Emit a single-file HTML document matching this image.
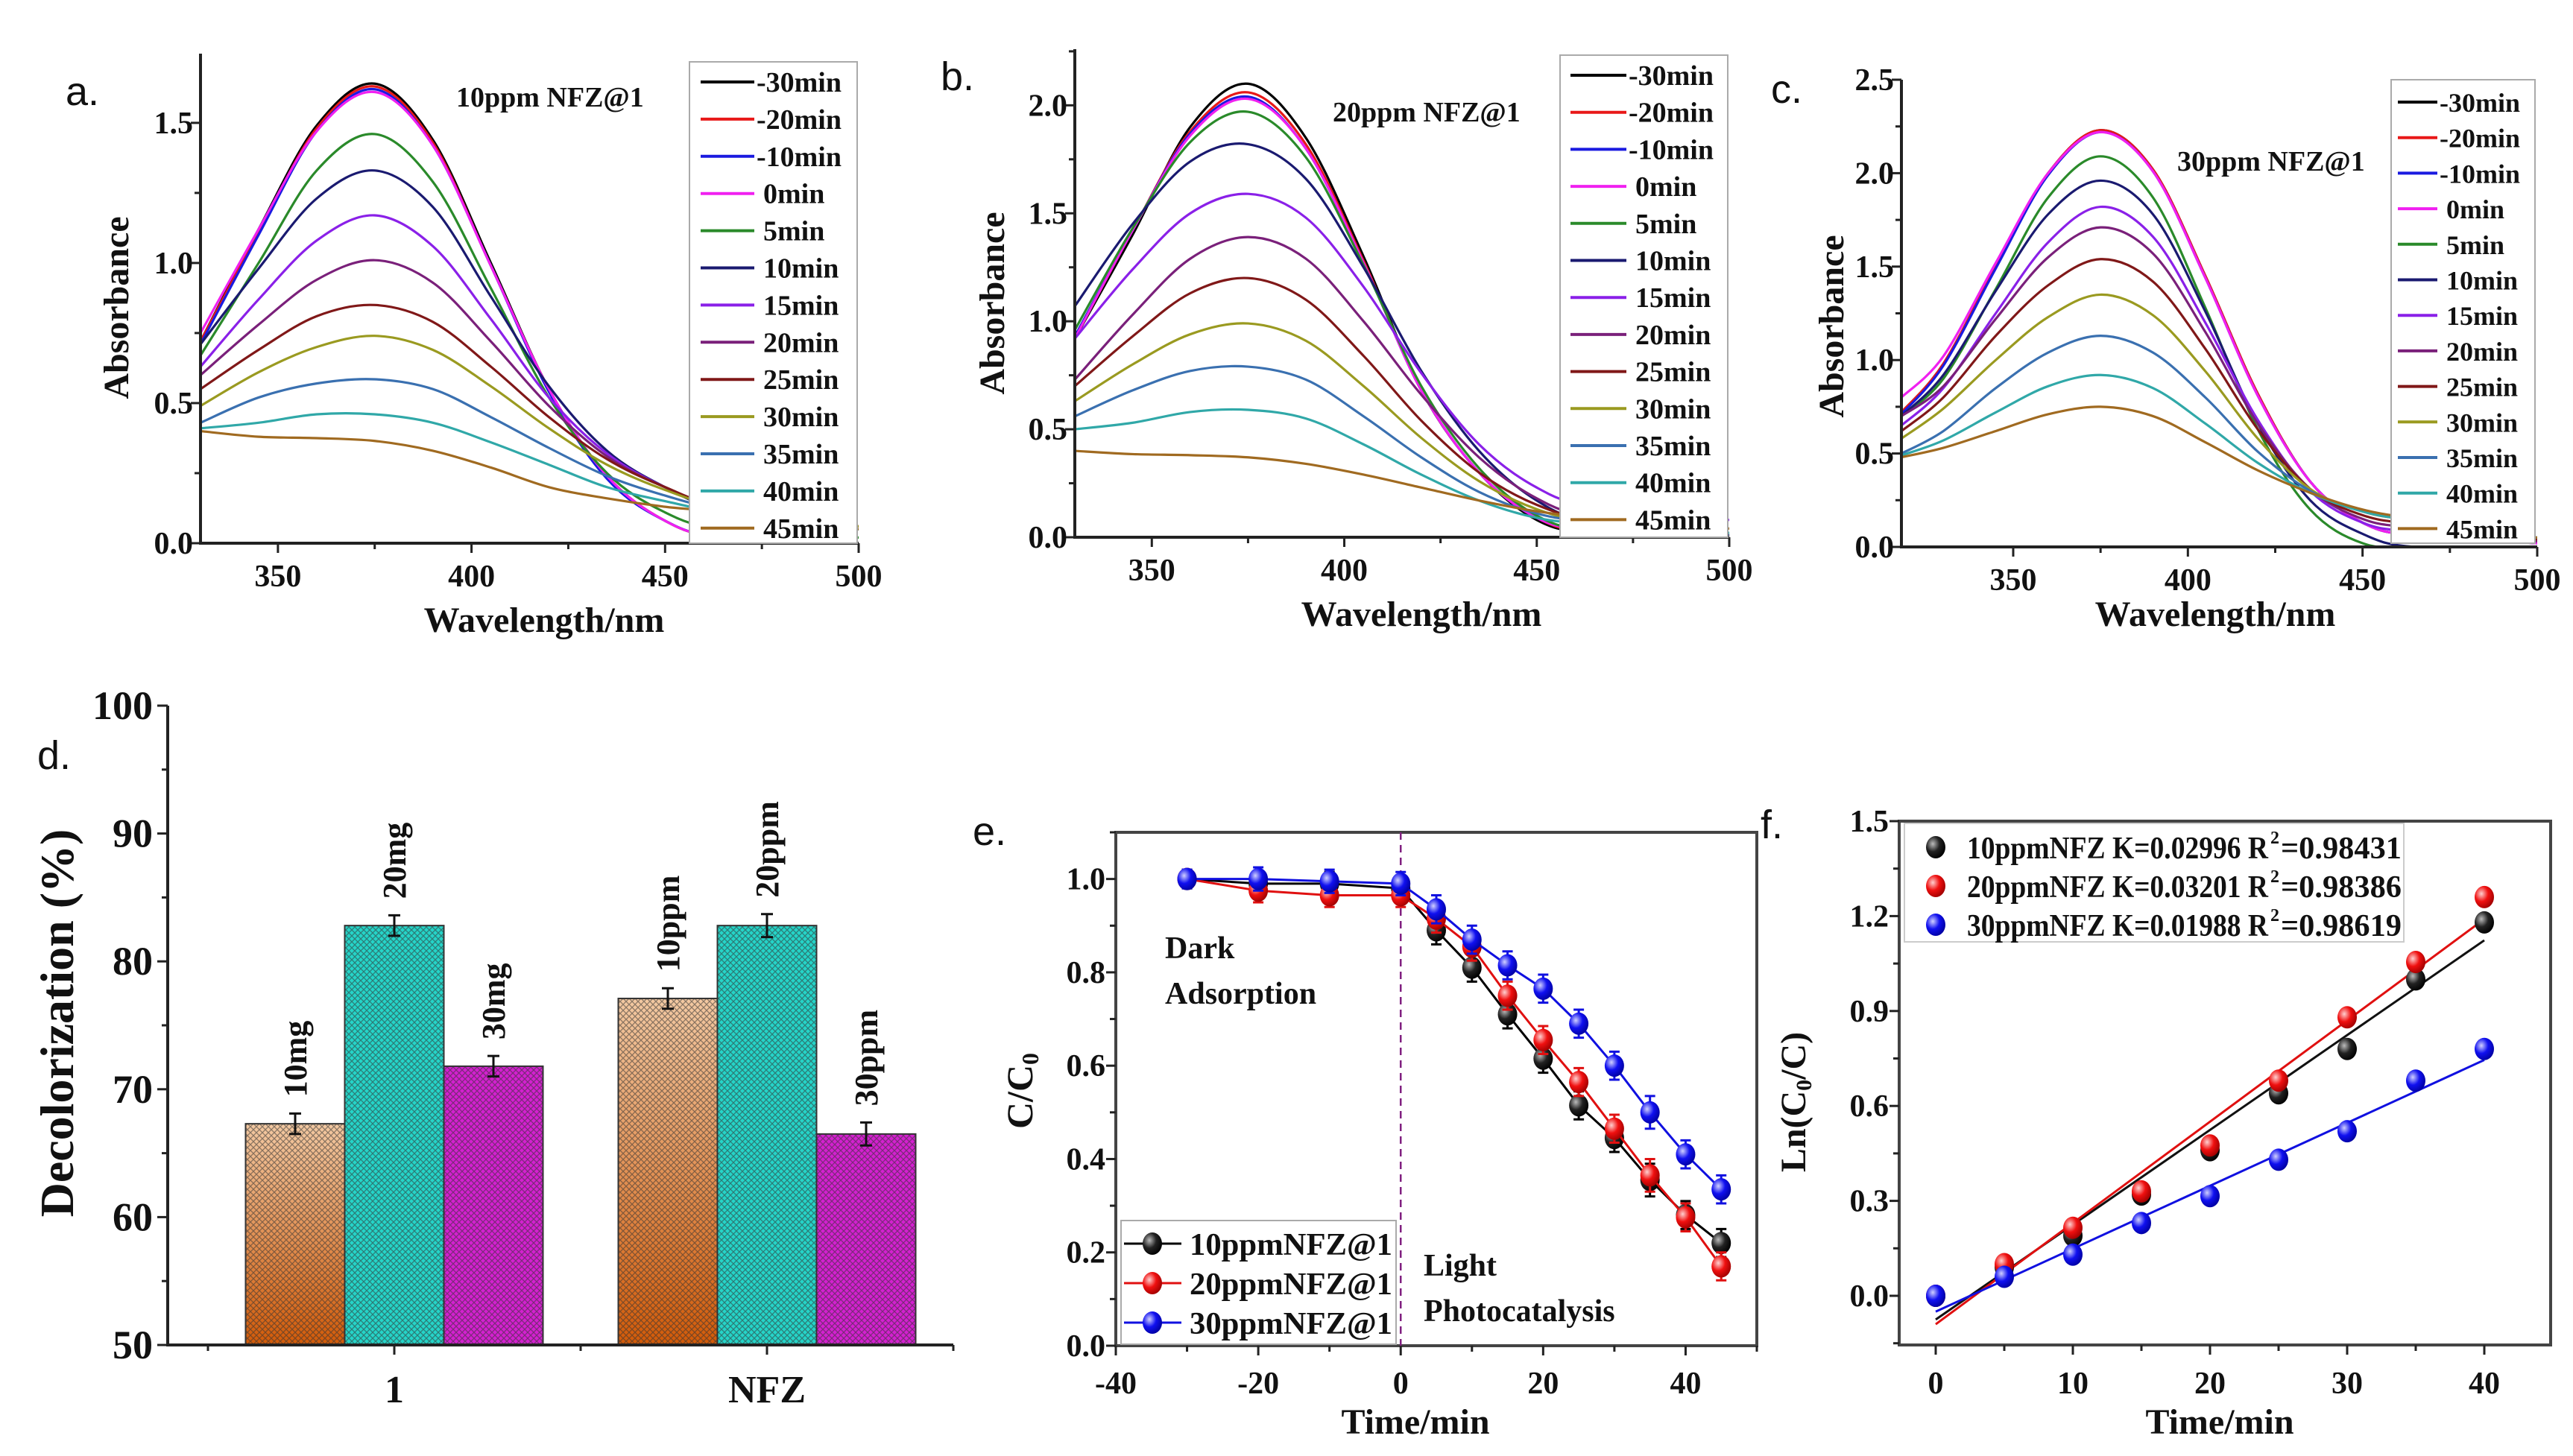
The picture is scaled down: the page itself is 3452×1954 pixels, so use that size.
<!DOCTYPE html>
<html><head><meta charset="utf-8"><style>
html,body{margin:0;padding:0;background:#fff;}
svg{display:block;}
text{font-family:"Liberation Serif",serif;font-weight:bold;fill:#111;}
.lbl{font-family:"Liberation Sans",sans-serif;font-weight:normal;}
</style></head><body>
<svg id="fig" xmlns="http://www.w3.org/2000/svg" width="3452" height="1954" viewBox="0 0 3452 1954">
<defs>
<linearGradient id="gOr" x1="0" y1="0" x2="0" y2="1"><stop offset="0" stop-color="#f3c9a2"/><stop offset="1" stop-color="#d25a08"/></linearGradient>
<pattern id="hatch" width="8" height="8" patternUnits="userSpaceOnUse"><path d="M0 0L8 8M8 0L0 8" stroke="#333" stroke-width="1.3" opacity="0.55"/></pattern>
<radialGradient id="sBlack" cx="0.35" cy="0.35" r="0.7"><stop offset="0" stop-color="#bbb"/><stop offset="0.5" stop-color="#222"/><stop offset="1" stop-color="#000"/></radialGradient>
<radialGradient id="sRed" cx="0.35" cy="0.35" r="0.7"><stop offset="0" stop-color="#ffd0d0"/><stop offset="0.5" stop-color="#f01010"/><stop offset="1" stop-color="#a00000"/></radialGradient>
<radialGradient id="sBlue" cx="0.35" cy="0.35" r="0.7"><stop offset="0" stop-color="#d0d0ff"/><stop offset="0.5" stop-color="#1010f0"/><stop offset="1" stop-color="#0000a0"/></radialGradient>
</defs>
</svg>
<script>
// ---------- DATA ----------
const legendLabels = ['-30min','-20min','-10min','0min','5min','10min','15min','20min','25min','30min','35min','40min','45min'];
const seriesColors = ['#000000','#e81818','#1a1ae0','#f020f0','#2a8a2a','#1a1a70','#8a20e8','#7a207a','#801818','#9a9a20','#3a70b0','#30a8a8','#a06a20'];

const waveA = [330,345,360,375,390,405,420,435,450,465,500];
const specA = [
[0.72,1.12,1.49,1.64,1.44,1.00,0.55,0.24,0.08,0.02,0.0],
[0.72,1.11,1.48,1.63,1.43,0.99,0.55,0.24,0.08,0.02,0.0],
[0.71,1.10,1.47,1.62,1.42,0.99,0.54,0.23,0.08,0.02,0.0],
[0.75,1.12,1.47,1.61,1.42,0.99,0.55,0.24,0.08,0.02,0.0],
[0.67,1.00,1.33,1.46,1.29,0.91,0.52,0.25,0.11,0.05,0.02],
[0.71,0.98,1.23,1.33,1.20,0.88,0.56,0.33,0.20,0.12,0.05],
[0.63,0.87,1.08,1.17,1.06,0.80,0.52,0.32,0.20,0.13,0.06],
[0.60,0.78,0.94,1.01,0.93,0.72,0.49,0.31,0.20,0.13,0.06],
[0.55,0.69,0.81,0.85,0.79,0.63,0.45,0.30,0.20,0.13,0.06],
[0.49,0.61,0.70,0.74,0.69,0.56,0.41,0.28,0.19,0.13,0.06],
[0.43,0.52,0.57,0.585,0.55,0.45,0.34,0.24,0.17,0.12,0.05],
[0.41,0.43,0.46,0.46,0.43,0.36,0.28,0.20,0.15,0.11,0.05],
[0.40,0.38,0.375,0.365,0.33,0.27,0.20,0.16,0.13,0.11,0.05]];

const waveB = [330,345,360,375,390,405,420,435,450,465,500];
const specB = [
[0.92,1.40,1.90,2.10,1.85,1.30,0.68,0.30,0.08,0.02,0.0],
[0.92,1.42,1.88,2.06,1.82,1.28,0.68,0.30,0.09,0.02,0.0],
[0.93,1.42,1.87,2.04,1.80,1.27,0.68,0.30,0.09,0.03,0.0],
[0.92,1.42,1.86,2.03,1.80,1.27,0.68,0.30,0.09,0.03,0.0],
[0.96,1.43,1.83,1.97,1.76,1.26,0.70,0.32,0.10,0.03,0.0],
[1.07,1.45,1.74,1.82,1.66,1.25,0.77,0.40,0.17,0.07,0.01],
[0.92,1.24,1.50,1.59,1.48,1.16,0.76,0.43,0.23,0.14,0.08],
[0.73,1.03,1.29,1.39,1.29,1.00,0.66,0.37,0.18,0.09,0.02],
[0.70,0.93,1.13,1.20,1.10,0.84,0.54,0.30,0.15,0.08,0.02],
[0.63,0.80,0.94,0.99,0.91,0.70,0.46,0.26,0.13,0.07,0.02],
[0.56,0.68,0.77,0.79,0.73,0.56,0.37,0.21,0.11,0.07,0.02],
[0.50,0.53,0.58,0.59,0.55,0.43,0.29,0.17,0.09,0.06,0.02],
[0.40,0.385,0.38,0.37,0.34,0.29,0.23,0.17,0.12,0.09,0.04]];

const waveC = [318,330,345,360,375,390,405,420,435,450,465,500];
const specC = [
[0.72,0.98,1.50,2.00,2.23,2.02,1.45,0.82,0.35,0.13,0.06,0.02],
[0.72,0.98,1.50,2.00,2.23,2.02,1.45,0.82,0.35,0.13,0.06,0.02],
[0.71,0.97,1.49,1.99,2.22,2.01,1.44,0.81,0.35,0.13,0.06,0.02],
[0.80,1.02,1.52,2.00,2.22,2.01,1.44,0.81,0.35,0.13,0.06,0.02],
[0.70,0.90,1.38,1.87,2.09,1.87,1.28,0.63,0.20,0.02,0.0,0.0],
[0.70,0.92,1.37,1.78,1.96,1.78,1.26,0.66,0.25,0.07,0.0,0.0],
[0.65,0.85,1.25,1.63,1.82,1.66,1.20,0.68,0.30,0.13,0.08,0.03],
[0.70,0.86,1.22,1.55,1.71,1.57,1.15,0.66,0.31,0.15,0.10,0.03],
[0.62,0.80,1.13,1.40,1.54,1.42,1.06,0.63,0.31,0.17,0.12,0.04],
[0.58,0.74,1.00,1.23,1.35,1.24,0.94,0.58,0.31,0.19,0.14,0.05],
[0.50,0.62,0.85,1.04,1.13,1.04,0.80,0.51,0.30,0.19,0.14,0.05],
[0.49,0.57,0.72,0.86,0.92,0.85,0.66,0.45,0.29,0.19,0.14,0.05],
[0.48,0.53,0.62,0.71,0.75,0.70,0.56,0.41,0.29,0.20,0.15,0.05]];

const barGroups = ['1','NFZ'];
const barValues = [[67.3,82.8,71.8],[77.1,82.8,66.5]];
const barErrors = [[0.8,0.8,0.8],[0.8,0.9,0.9]];
const barLabels = [['10mg','20mg','30mg'],['10ppm','20ppm','30ppm']];
const yTicksD = [50,60,70,80,90,100];

const timeE = [-30,-20,-10,0,5,10,15,20,25,30,35,40,45];
const ratio10 = [1.0,0.99,0.99,0.98,0.89,0.81,0.71,0.615,0.515,0.445,0.355,0.28,0.22];
const ratio20 = [1.0,0.975,0.965,0.965,0.915,0.855,0.75,0.655,0.565,0.465,0.365,0.275,0.17];
const ratio30 = [1.0,1.0,0.995,0.99,0.935,0.87,0.815,0.765,0.69,0.6,0.5,0.41,0.335];
const errE = [0.02,0.025,0.025,0.025,0.03,0.03,0.03,0.03,0.03,0.03,0.035,0.03,0.03];
const legendE = ['10ppmNFZ@1','20ppmNFZ@1','30ppmNFZ@1'];

const timeF = [0,5,10,15,20,25,30,35,40];
const ln10 = [0,0.09,0.19,0.32,0.46,0.64,0.78,1.0,1.18];
const ln20 = [0,0.1,0.215,0.33,0.475,0.68,0.88,1.055,1.26];
const ln30 = [0,0.06,0.13,0.23,0.315,0.43,0.52,0.68,0.78];
const slopesF = [0.02996,0.03201,0.01988];
const interceptsF = [-0.075,-0.09,-0.05];
const legendF = ['10ppmNFZ  K=0.02996  R','20ppmNFZ  K=0.03201  R','30ppmNFZ  K=0.01988  R'];
const r2F = ['=0.98431','=0.98386','=0.98619'];

// ---------- HELPERS ----------
const NS='http://www.w3.org/2000/svg';
const svg=document.getElementById('fig');
function mk(tag,attrs,parent){const e=document.createElementNS(NS,tag);for(const k in attrs)e.setAttribute(k,attrs[k]);(parent||svg).appendChild(e);return e;}
function txt(s,x,y,size,attrs,parent){const t=mk('text',Object.assign({x:x,y:y,'font-size':size},attrs||{}),parent);t.textContent=s;return t;}
function lin(d0,d1,r0,r1){return v=>r0+(v-d0)*(r1-r0)/(d1-d0);}
function smooth(pts){let d='M'+pts[0][0]+' '+pts[0][1];for(let i=0;i<pts.length-1;i++){const p0=pts[i-1]||pts[i],p1=pts[i],p2=pts[i+1],p3=pts[i+2]||p2;
 const c1=[p1[0]+(p2[0]-p0[0])/6,p1[1]+(p2[1]-p0[1])/6],c2=[p2[0]-(p3[0]-p1[0])/6,p2[1]-(p3[1]-p1[1])/6];
 d+=' C'+c1[0]+' '+c1[1]+' '+c2[0]+' '+c2[1]+' '+p2[0]+' '+p2[1];}return d;}

// ---------- SPECTRA PANELS ----------
function spectra(cfg){
 const g=mk('g',{});
 
 
 const X=lin(cfg.x0,500,cfg.L,cfg.R), Y=lin(0,cfg.yTop,cfg.B,cfg.T);
 const cid='clip'+cfg.name;
 const cp=mk('clipPath',{id:cid},g);mk('rect',{x:cfg.L,y:cfg.T,width:cfg.R-cfg.L,height:cfg.B-cfg.T},cp);
 const cg=mk('g',{'clip-path':'url(#'+cid+')'},g);
 cfg.spec.forEach((s,i)=>{
  const p=mk('path',{d:smooth(s.map((v,j)=>[X(cfg.wave[j]),Y(v)])),fill:'none',stroke:seriesColors[i],'stroke-width':3.2},cg);
  
  
 });
 mk('line',{x1:cfg.L,y1:cfg.T,x2:cfg.L,y2:cfg.B+2,stroke:'#222','stroke-width':4},g);
 mk('line',{x1:cfg.L-2,y1:cfg.B,x2:cfg.R,y2:cfg.B,stroke:'#222','stroke-width':4},g);
 for(let w=350;w<=500;w+=25){mk('line',{x1:X(w),y1:cfg.B,x2:X(w),y2:cfg.B+(w%50?8:13),stroke:'#222','stroke-width':3},g);
  if(w%50===0){const t=txt(String(w),X(w),cfg.B+58,42,{'text-anchor':'middle'},g);}}
 for(let v=0;v<=cfg.yTop+1e-9;v+=0.25){const y=Y(v);const maj=Math.abs(v*2-Math.round(v*2))<1e-6;
  mk('line',{x1:cfg.L,y1:y,x2:cfg.L-(maj?13:8),y2:y,stroke:'#222','stroke-width':3},g);
  if(maj){const t=txt(v.toFixed(1),cfg.L-10,y+14,42,{'text-anchor':'end'},g);}}
 const xt=txt('Wavelength/nm',cfg.xtX,cfg.xtY,48,{'text-anchor':'middle'},g);
 
 const yt=txt('Absorbance',0,0,48,{'text-anchor':'middle',transform:'translate('+cfg.ytX+','+cfg.ytY+') rotate(-90)'},g);
 
 const ti=txt(cfg.title,cfg.tX,cfg.tY,38,{},g);
 
 const pl=txt(cfg.letter,cfg.pX,cfg.pY,54,{class:'lbl'},g);
 
 const lg=mk('g',{},g);
 
 
 mk('rect',{x:cfg.lg[0],y:cfg.lg[1],width:cfg.lg[2]-cfg.lg[0],height:cfg.lg[3]-cfg.lg[1],fill:'#fff',stroke:'#aaa','stroke-width':2},lg);
 legendLabels.forEach((l,i)=>{const y=cfg.ly0+i*cfg.ldy;
  const e=mk('g',{},lg);
  
  
  mk('line',{x1:cfg.lx0,y1:y,x2:cfg.lx1,y2:y,stroke:seriesColors[i],'stroke-width':4},e);
  txt(l,cfg.lx1+(l[0]==='-'?3:12),y+13,cfg.lfs,{},e);});
}
spectra({name:'panel-a',x0:330,L:269,R:1152,T:72,B:729,yTop:1.747,wave:waveA,spec:specA,
 xtX:730,xtY:848,ytX:172,ytY:413,title:'10ppm NFZ@1',tX:612,tY:143,letter:'a.',pX:88,pY:141,
 lg:[925,83,1150,729],ly0:110,ldy:49.9,lx0:940,lx1:1012,lfs:38});
spectra({name:'panel-b',x0:330,L:1442,R:2320,T:66,B:721,yTop:2.26,wave:waveB,spec:specB,
 xtX:1907,xtY:840,ytX:1347,ytY:407,title:'20ppm NFZ@1',tX:1788,tY:163,letter:'b.',pX:1262,pY:121,
 lg:[2093,74,2318,721],ly0:101,ldy:49.7,lx0:2107,lx1:2182,lfs:38});
spectra({name:'panel-c',x0:318,L:2551,R:3404,T:107,B:734,yTop:2.5,wave:waveC,spec:specC,
 xtX:2972,xtY:840,ytX:2473,ytY:438,title:'30ppm NFZ@1',tX:2921,tY:229,letter:'c.',pX:2376,pY:138,
 lg:[3208,107,3401,729],ly0:137,ldy:47.7,lx0:3217,lx1:3270,lfs:36});

// ---------- PANEL D (bars) ----------
(function(){
 const g=mk('g',{});
 
 
 const L=225,R=1279,T=947,B=1805;
 const Y=lin(50,100,B,T);
 const gx=lin(0,1,529,1029); const bw=133;
 const fills=['url(#gOr)','#25d4c8','#d420d0'];
 barValues.forEach((vals,gi)=>{vals.forEach((v,bi)=>{
  const x=gx(gi)+(bi-1.5)*bw;
  const r=mk('rect',{x:x,y:Y(v),width:bw,height:B-Y(v),fill:fills[bi],stroke:'#333','stroke-width':2},g);
  
  
  mk('rect',{x:x,y:Y(v),width:bw,height:B-Y(v),fill:'url(#hatch)'},g);
  const cx=x+bw/2,e=barErrors[gi][bi];
  mk('path',{d:'M'+cx+' '+Y(v+e)+'V'+Y(v-e)+'M'+(cx-8)+' '+Y(v+e)+'H'+(cx+8)+'M'+(cx-8)+' '+Y(v-e)+'H'+(cx+8),stroke:'#111','stroke-width':3,fill:'none'},g);
  const t=txt(barLabels[gi][bi],0,0,44,{transform:'translate('+(cx+15)+','+(Y(v+e)-22)+') rotate(-90)'},g);
  
 });});
 mk('line',{x1:L,y1:T,x2:L,y2:B+2,stroke:'#222','stroke-width':4},g);
 mk('line',{x1:L-2,y1:B,x2:R,y2:B,stroke:'#222','stroke-width':4},g);
 yTicksD.forEach(v=>{mk('line',{x1:L,y1:Y(v),x2:L-14,y2:Y(v),stroke:'#222','stroke-width':3},g);
  const t=txt(String(v),L-20,Y(v)+18,54,{'text-anchor':'end'},g);
  if(v<100)mk('line',{x1:L,y1:Y(v+5),x2:L-8,y2:Y(v+5),stroke:'#222','stroke-width':3},g);});
 [279,779,1279].forEach(x=>mk('line',{x1:x,y1:B,x2:x,y2:B+8,stroke:'#222','stroke-width':3},g));
 barGroups.forEach((c,i)=>{mk('line',{x1:gx(i),y1:B,x2:gx(i),y2:B+13,stroke:'#222','stroke-width':3},g);
  const t=txt(c,gx(i),1882,52,{'text-anchor':'middle'},g);});
 const yt=txt('Decolorization (%)',0,0,64,{'text-anchor':'middle',transform:'translate(98,1373) rotate(-90)'},g);
 
 const pl=txt('d.',50,1032,54,{class:'lbl'},g);
})();

// ---------- PANEL E ----------
(function(){
 const g=mk('g',{});
 
 
 const L=1497,R=2357,T=1117,B=1806;
 const X=lin(-40,50,L,R),Y=lin(0,1.1,B,T);
 mk('rect',{x:L,y:T,width:R-L,height:B-T,fill:'none',stroke:'#444','stroke-width':4},g);
 const dl=mk('line',{x1:X(0),y1:T,x2:X(0),y2:B,stroke:'#802080','stroke-width':2.5,'stroke-dasharray':'10 7'},g);
 
 for(let t=-40;t<=50;t+=10){mk('line',{x1:X(t),y1:B,x2:X(t),y2:B+(t%20?8:13),stroke:'#222','stroke-width':3},g);
  if(t%20===0&&t<=40){const s=txt(String(t),X(t),1870,42,{'text-anchor':'middle'},g);}}
 for(let k=0;k<=11;k++){const v=k/10;mk('line',{x1:L,y1:Y(v),x2:L-(k%2?8:13),y2:Y(v),stroke:'#222','stroke-width':3},g);
  if(k%2===0){const s=txt(v.toFixed(1),L-14,Y(v)+14,42,{'text-anchor':'end'},g);}}
 const sets=[[ratio10,'#000','url(#sBlack)'],[ratio20,'#e01010','url(#sRed)'],[ratio30,'#1010e0','url(#sBlue)']];
 sets.forEach((s,si)=>{
  const ln=mk('polyline',{points:timeE.map((t,i)=>X(t)+','+Y(s[0][i])).join(' '),fill:'none',stroke:s[1],'stroke-width':3},g);
  
  timeE.forEach((t,i)=>{const cx=X(t),v=s[0][i],e=errE[i];
   mk('path',{d:'M'+cx+' '+Y(v+e)+'V'+Y(v-e)+'M'+(cx-7)+' '+Y(v+e)+'H'+(cx+7)+'M'+(cx-7)+' '+Y(v-e)+'H'+(cx+7),stroke:s[1],'stroke-width':3,fill:'none'},g);
   const c=mk('ellipse',{cx:cx,cy:Y(v),rx:13,ry:15,fill:s[2]},g);
   });
 });
 [['Dark',1563,1286],['Adsorption',1563,1347],['Light',1910,1712],['Photocatalysis',1910,1773]].forEach(a=>{
  const t=txt(a[0],a[1],a[2],42,{},g);});
 const lg=mk('g',{},g);
 
 
 mk('rect',{x:1504,y:1638,width:369,height:166,fill:'#fff',stroke:'#aaa','stroke-width':2},lg);
 legendE.forEach((l,i)=>{const y=1669+i*53;
  const e=mk('g',{},lg);
  
  
  mk('line',{x1:1508,y1:y,x2:1585,y2:y,stroke:sets[i][1],'stroke-width':3},e);
  mk('ellipse',{cx:1546,cy:y,rx:13,ry:15,fill:sets[i][2]},e);
  txt(l,1596,y+15,42,{textLength:272,lengthAdjust:'spacingAndGlyphs'},e);});
 const xt=txt('Time/min',1899,1924,48,{'text-anchor':'middle'},g);
 const yt=mk('text',{'font-size':50,'text-anchor':'middle',transform:'translate(1385,1464) rotate(-90)'},g);
 
 yt.innerHTML='C/C<tspan font-size="32" dy="8">0</tspan>';
 const pl=txt('e.',1305,1134,54,{class:'lbl'},g);
})();

// ---------- PANEL F ----------
(function(){
 const g=mk('g',{});
 
 
 const L=2548,R=3422,T=1102,B=1805;
 const X=lin(0,40,2597,3333),Y=lin(0,1.5,1739,T);
 mk('rect',{x:L,y:T,width:R-L,height:B-T,fill:'none',stroke:'#444','stroke-width':4},g);
 for(let t=0;t<=40;t+=5){mk('line',{x1:X(t),y1:B,x2:X(t),y2:B+(t%10?8:13),stroke:'#222','stroke-width':3},g);
  if(t%10===0){const s=txt(String(t),X(t),1870,42,{'text-anchor':'middle'},g);}}
 for(let k=-1;k<=10;k++){const v=k*0.15;mk('line',{x1:L,y1:Y(v),x2:L-(k%2?8:13),y2:Y(v),stroke:'#222','stroke-width':3},g);
  if(k%2===0&&k>=0){const s=txt(v.toFixed(1),L-14,Y(v)+14,42,{'text-anchor':'end'},g);}}
 const sets=[[ln10,'#111','url(#sBlack)'],[ln20,'#e01010','url(#sRed)'],[ln30,'#1010e0','url(#sBlue)']];
 sets.forEach((s,si)=>{
  const fl=mk('line',{x1:X(0),y1:Y(interceptsF[si]),x2:X(40),y2:Y(interceptsF[si]+slopesF[si]*40),stroke:s[1],'stroke-width':3},g);
  
 });
 sets.forEach(s=>{timeF.forEach((t,i)=>{const c=mk('ellipse',{cx:X(t),cy:Y(s[0][i]),rx:13,ry:15,fill:s[2]},g);
  });});
 const lg=mk('g',{},g);
 
 
 mk('rect',{x:2555,y:1105,width:670,height:159,fill:'#fff',stroke:'#ccc','stroke-width':2},lg);
 legendF.forEach((l,i)=>{const y=1137+i*52;
  const e=mk('g',{},lg);
  
  
  mk('ellipse',{cx:2597,cy:y,rx:13,ry:15,fill:sets[i][2]},e);
  txt(l,2639,y+15,42,{textLength:404,lengthAdjust:'spacingAndGlyphs'},e);
  txt('2',3046,y-5,24,{},e);
  txt(r2F[i],3060,y+15,42,{textLength:162,lengthAdjust:'spacingAndGlyphs'},e);});
 const xt=txt('Time/min',2978,1924,48,{'text-anchor':'middle'},g);
 const yt=mk('text',{'font-size':48,'text-anchor':'middle',transform:'translate(2422,1479) rotate(-90)'},g);
 
 yt.innerHTML='Ln(C<tspan font-size="30" dy="8">0</tspan><tspan dy="-8">/C)</tspan>';
 const pl=txt('f.',2362,1125,54,{class:'lbl'},g);
})();
</script>
</body></html>
